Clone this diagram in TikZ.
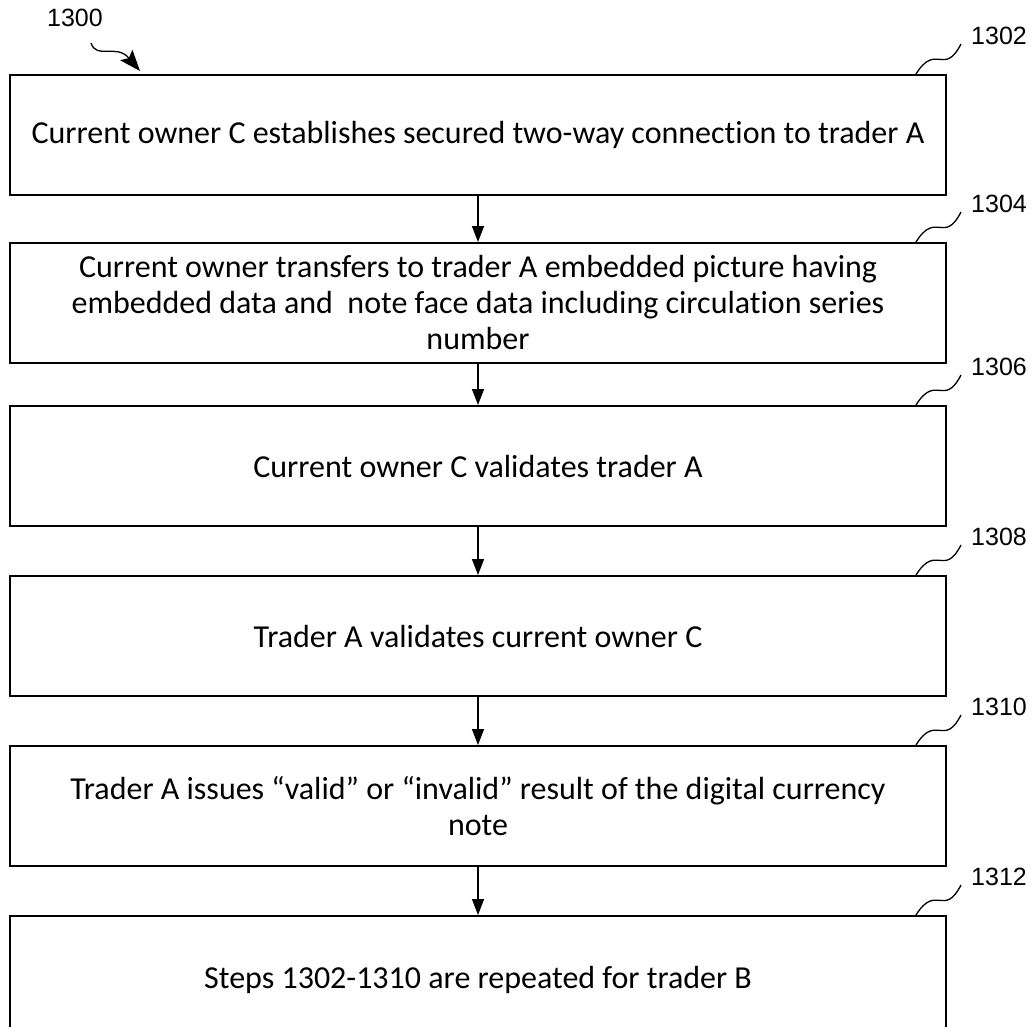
\documentclass[tikz,border=0pt]{standalone}
\usepackage{fontspec}
\setmainfont{Carlito}[Ligatures={NoCommon}]
\newfontfamily\labelfont{Liberation Sans}
\usetikzlibrary{positioning,calc,arrows.meta}

\begin{document}
\begin{tikzpicture}[
			x=1pt, y=-1pt,
			node distance=47pt,
			every node/.style={font=\fontsize{32}{36}\selectfont},
			stepbox/.style={rectangle, draw, line width=2pt, minimum width=936pt, minimum height=120pt, align=center, inner sep=0pt},
			refnum/.style={font=\labelfont\fontsize{25}{25}\selectfont, inner sep=0pt},
			arrow/.style={-{Triangle[width=12pt,length=16pt]}, line width=1.5pt},
			squiggle/.style={line width=1.3pt}
		]
		\useasboundingbox (0,0) rectangle (1036,1026);

		\node (s1302) [stepbox] at (478,135) {Current owner C establishes secured two-way connection to trader A};
		\node (s1304) [stepbox, below=46pt of s1302] {Current owner transfers to trader A embedded picture having\\embedded data and \ note face data including circulation series\\number};
		\node (s1306) [stepbox, below=41pt of s1304] {Current owner C validates trader A};
		\node (s1308) [stepbox, below=48pt of s1306] {Trader A validates current owner C};
		\node (s1310) [stepbox, below=48pt of s1308] {Trader A issues “valid” or “invalid” result of the digital currency\\note};
		\node (s1312) [stepbox, below=48pt of s1310, minimum height=128pt] {Steps 1302-1310 are repeated for trader B};

		% reference numerals
		\node (n1300) [refnum] at (75,18) {1300};
		\coordinate (c1300) at ($(n1300.south)+(16,16)$);
		\draw[squiggle, -{Stealth[length=21pt,width=16pt,inset=4pt]}] (c1300) .. controls +(6,17) and +(-24,-28) .. ($(s1302.north west)+(131,-3)$);

		\foreach \n in {1302,1304,...,1312} {
			\node (n\n) [refnum] at ($(s\n.north east)+(52,-38)$) {\n};
			\draw[squiggle] ($(s\n.north east)+(-31,0)$) .. controls +(20,-32) and +(-17,33) .. ($(n\n.west)+(-10,8)$);
		}

		% arrows
		\draw[arrow] (s1302) -- (s1304);
		\draw[arrow] (s1304) -- (s1306);
		\draw[arrow] (s1306) -- (s1308);
		\draw[arrow] (s1308) -- (s1310);
		\draw[arrow] (s1310) -- (s1312);
	\end{tikzpicture}
\end{document}
